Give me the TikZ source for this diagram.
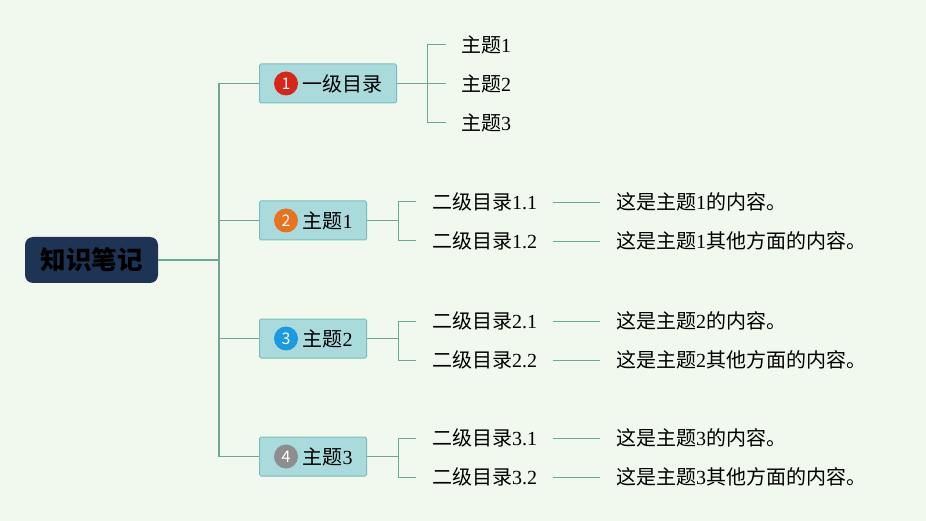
\documentclass[tikz,border=0pt]{standalone}
\usepackage{fontspec}
\setmainfont{Liberation Serif}
\newfontfamily\cjk{Noto Sans CJK SC}
\usetikzlibrary{positioning}

\definecolor{bgcol}{RGB}{241,249,239}
\definecolor{rootcol}{RGB}{30,52,84}
\definecolor{topiccol}{RGB}{169,219,221}
\definecolor{topicline}{RGB}{122,188,186}
\definecolor{linkcol}{RGB}{108,168,152}
\definecolor{badgeA}{RGB}{214,38,26}
\definecolor{badgeB}{RGB}{232,114,30}
\definecolor{badgeC}{RGB}{28,154,222}
\definecolor{badgeD}{RGB}{142,142,142}

\newcommand{\zh}[1]{{\cjk #1}}

\begin{document}
\begin{tikzpicture}[x=1pt, y=-1pt, font=\fontsize{20}{24}\selectfont,
        link/.style={draw=linkcol, line width=1.2pt},
        root/.style={fill=rootcol, rounded corners=8pt, minimum width=133pt, minimum height=46pt,
            font=\cjk\bfseries\fontsize{25.5}{30}\selectfont},
        topic/.style={draw=topicline, fill=topiccol, line width=1pt, rounded corners=1.5pt,
            anchor=west, minimum height=39pt, inner ysep=0pt, inner xsep=14pt},
        badge/.style={circle, fill=#1, minimum size=24pt, inner sep=0pt, text=white,
            font=\cjk\fontsize{16}{16}\selectfont},
        leaf/.style={inner sep=0pt, outer xsep=15pt, anchor=west}]
        \fill[bgcol] (0,0) rectangle (926,521);

        % root and first level
        \node[root] (root) at (91.5,260) {知识笔记};
        \node[topic] (n1) at (259,83.5) {\hspace{29pt}\zh{一级目录}};
        \node[topic] (n2) at (259,220.5) {\hspace{29pt}\zh{主题}1};
        \node[topic] (n3) at (259,338.5) {\hspace{29pt}\zh{主题}2};
        \node[topic] (n4) at (259,456.5) {\hspace{29pt}\zh{主题}3};
        \node[badge=badgeA] (k1) at ([xshift=27pt]n1.west) {1};
        \node[badge=badgeB] (k2) at ([xshift=27pt]n2.west) {2};
        \node[badge=badgeC] (k3) at ([xshift=27pt]n3.west) {3};
        \node[badge=badgeD] (k4) at ([xshift=27pt]n4.west) {4};

        \coordinate (tr) at (219,260);
        \draw[link] (root.east) -- (tr);
        \foreach \n in {n1,n2,n3,n4}
            \draw[link] (tr) |- (\n.west);

        % leaves of the first topic
        \node[leaf] (l1) at (446,45) {\zh{主题}1};
        \node[leaf] (l2) at (446,84) {\zh{主题}2};
        \node[leaf] (l3) at (446,123) {\zh{主题}3};
        \draw[link] (n1.east) -- ++(30,0) coordinate (b1);
        \foreach \l in {l1,l2,l3}
            \draw[link, line width=1pt] (b1) |- (\l.west);

        % second level
        \node[leaf, outer xsep=16pt] (s11) at (416,202) {\zh{二级目录}1.1};
        \node[leaf, outer xsep=16pt] (s12) at (416,241) {\zh{二级目录}1.2};
        \node[leaf, outer xsep=16pt] (s21) at (416,321) {\zh{二级目录}2.1};
        \node[leaf, outer xsep=16pt] (s22) at (416,360) {\zh{二级目录}2.2};
        \node[leaf, outer xsep=16pt] (s31) at (416,438) {\zh{二级目录}3.1};
        \node[leaf, outer xsep=16pt] (s32) at (416,477) {\zh{二级目录}3.2};
        \foreach \t/\a/\b in {n2/s11/s12, n3/s21/s22, n4/s31/s32} {
            \draw[link] (\t.east) -- ++(31,0) coordinate (b\t);
            \draw[link, line width=1pt] (b\t) |- (\a.west);
            \draw[link, line width=1pt] (b\t) |- (\b.west);
        }

        % contents
        \node[leaf, outer xsep=16pt] (c11) at (600,202) {\zh{这是主题}1\zh{的内容。}};
        \node[leaf, outer xsep=16pt] (c12) at (600,241) {\zh{这是主题}1\zh{其他方面的内容。}};
        \node[leaf, outer xsep=16pt] (c21) at (600,321) {\zh{这是主题}2\zh{的内容。}};
        \node[leaf, outer xsep=16pt] (c22) at (600,360) {\zh{这是主题}2\zh{其他方面的内容。}};
        \node[leaf, outer xsep=16pt] (c31) at (600,438) {\zh{这是主题}3\zh{的内容。}};
        \node[leaf, outer xsep=16pt] (c32) at (600,477) {\zh{这是主题}3\zh{其他方面的内容。}};
        \foreach \a/\b in {s11/c11, s12/c12, s21/c21, s22/c22, s31/c31, s32/c32}
            \draw[link, line width=0.8pt] (\a) -- (\b);
\end{tikzpicture}
\end{document}
